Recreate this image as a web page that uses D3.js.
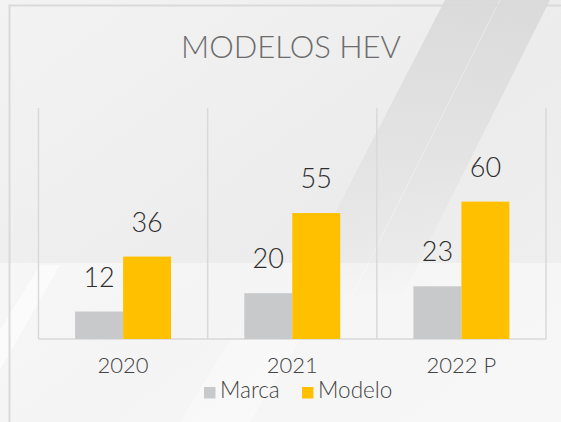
<!DOCTYPE html>
<html>
<head>
<meta charset="utf-8">
<script src="https://cdn.jsdelivr.net/npm/d3@7"></script>
<style>
  html, body { margin: 0; padding: 0; background: #efefef; }
  svg { display: block; }
</style>
</head>
<body>
<svg id="chart"></svg>
<script>
// data
const years = ["2020", "2021", "2022 P"];
const marca = [12, 20, 23];
const modelo = [36, 55, 60];
const seriesNames = ["Marca", "Modelo"];
const seriesColors = ["#c8c9cb", "#ffc000"];
const chartTitle = "MODELOS HEV";

const width = 561, height = 422;
const fontFam = "Lato, 'Open Sans', sans-serif";
const fontW = 300;

const svg = d3.select("#chart").attr("width", width).attr("height", height);

// ***************** background
const defs = svg.append("defs");
const bgGrad = defs.append("linearGradient").attr("id", "bg")
  .attr("x1", 0).attr("y1", 0).attr("x2", 1).attr("y2", 1);
bgGrad.append("stop").attr("offset", "0%").attr("stop-color", "#f3f3f3");
bgGrad.append("stop").attr("offset", "55%").attr("stop-color", "#ececec");
bgGrad.append("stop").attr("offset", "100%").attr("stop-color", "#f1f1f1");

const bandGrad = defs.append("linearGradient").attr("id", "band")
  .attr("x1", 0).attr("y1", 0).attr("x2", 0).attr("y2", 1);
bandGrad.append("stop").attr("offset", "0%").attr("stop-color", "#d4d4d4").attr("stop-opacity", 0.75);
bandGrad.append("stop").attr("offset", "100%").attr("stop-color", "#d4d4d4").attr("stop-opacity", 0);

svg.append("rect").attr("width", width).attr("height", height).attr("fill", "url(#bg)");

// lighter lower part
svg.append("rect").attr("x", 0).attr("y", 263).attr("width", width).attr("height", height - 263)
  .attr("fill", "#ffffff").attr("opacity", 0.45);

// dark diagonal band top right
svg.append("path")
  .attr("d", "M445,0 L550,0 L400,300 L290,300 Z")
  .attr("fill", "url(#band)");
svg.append("path")
  .attr("d", "M500,0 L350,300")
  .attr("stroke", "#ffffff").attr("stroke-opacity", 0.35).attr("stroke-width", 1);

// light diagonal shapes lower left
svg.append("path")
  .attr("d", "M0,330 L40,265 L60,265 L0,370 Z")
  .attr("fill", "#ffffff").attr("opacity", 0.6);
svg.append("path")
  .attr("d", "M180,422 L230,340 L300,340 L250,422 Z")
  .attr("fill", "#ffffff").attr("opacity", 0.35);

// frame
svg.append("path")
  .attr("d", `M9.5,${height} L9.5,5.5 L${width},5.5`)
  .attr("fill", "none").attr("stroke", "#dadada").attr("stroke-width", 2);

// ***************** scales
const x = d3.scaleBand().domain(years).range([38.5, 546])
  .paddingInner(0.433).paddingOuter(0.2165);
const x1 = d3.scaleBand().domain(seriesNames).range([0, x.bandwidth()]);
const y = d3.scaleLinear().domain([0, 100]).range([339, 110]);

const plot = svg.append("g");

// category separators
const x0 = x.range()[0];
const seps = d3.range(years.length + 1).map(i => x0 + i * x.step());
plot.selectAll(".sep").data(seps).enter().append("line")
  .attr("class", "sep")
  .attr("x1", d => d).attr("x2", d => d)
  .attr("y1", 108).attr("y2", y(0))
  .attr("stroke", "#d9d9d9").attr("stroke-width", 1.5);

// baseline
plot.append("line")
  .attr("x1", x0).attr("x2", x.range()[1])
  .attr("y1", y(0)).attr("y2", y(0))
  .attr("stroke", "#d9d9d9").attr("stroke-width", 1.5);

// bars
const rows = years.map((yr, i) => ({ year: yr, values: [marca[i], modelo[i]] }));
const groups = plot.selectAll(".grp").data(rows).enter().append("g")
  .attr("class", "grp")
  .attr("transform", d => `translate(${x(d.year)},0)`);

groups.selectAll("rect").data(d => d.values.map((v, j) => ({ key: seriesNames[j], v: v, j: j })))
  .enter().append("rect")
  .attr("x", d => x1(d.key))
  .attr("width", x1.bandwidth())
  .attr("y", d => y(d.v))
  .attr("height", d => y(0) - y(d.v))
  .attr("fill", d => seriesColors[d.j]);

groups.selectAll("text").data(d => d.values.map((v, j) => ({ key: seriesNames[j], v: v })))
  .enter().append("text")
  .attr("x", d => x1(d.key) + x1.bandwidth() / 2)
  .attr("y", d => y(d.v) - 25)
  .attr("text-anchor", "middle")
  .style("font-family", fontFam)
  .style("font-weight", fontW)
  .style("font-size", "27px")
  .style("fill", "#2e2e2e")
  .text(d => d.v);

// category labels
plot.selectAll(".cat").data(years).enter().append("text")
  .attr("class", "cat")
  .attr("x", d => x(d) + x.bandwidth() / 2)
  .attr("y", 373)
  .attr("text-anchor", "middle")
  .style("font-family", fontFam)
  .style("font-weight", fontW)
  .style("font-size", "22px")
  .style("fill", "#444444")
  .text(d => d);

// title
svg.append("text")
  .attr("x", 291).attr("y", 58)
  .attr("text-anchor", "middle")
  .style("font-family", fontFam)
  .style("font-weight", fontW)
  .style("font-size", "31px")
  .style("fill", "#6c6c6c")
  .text(chartTitle);

// legend
const legendX = [204, 302];
const legend = svg.selectAll(".legend").data(seriesNames).enter().append("g")
  .attr("class", "legend")
  .attr("transform", (d, i) => `translate(${legendX[i]},387)`);
legend.append("rect").attr("width", 11.5).attr("height", 11.5)
  .attr("fill", (d, i) => seriesColors[i]);
legend.append("text")
  .attr("x", 16).attr("y", 11)
  .style("font-family", fontFam)
  .style("font-weight", fontW)
  .style("font-size", "22.5px")
  .style("fill", "#444444")
  .text(d => d);
</script>
</body>
</html>
